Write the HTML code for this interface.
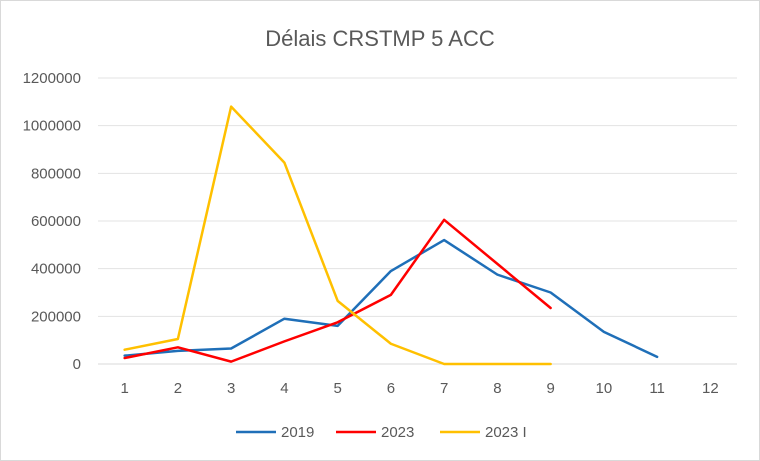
<!DOCTYPE html>
<html><head><meta charset="utf-8"><style>
html,body{margin:0;padding:0;background:#fff;}
svg{display:block;font-family:"Liberation Sans",Arial,sans-serif;}
</style></head><body>
<svg id="chart" width="760" height="461">
<rect x="0.5" y="0.5" width="759" height="460" fill="#fff" stroke="#d9d9d9"/>
<text x="380" y="46" text-anchor="middle" font-size="22" fill="#595959">Délais CRSTMP 5 ACC</text>
<g id="grid"></g><g id="series"></g><g id="legend"></g>
</svg>
<script>
const categories=[1,2,3,4,5,6,7,8,9,10,11,12];
const yTicks=[0,200000,400000,600000,800000,1000000,1200000];
const s2019=[35000,55000,65000,190000,160000,390000,520000,375000,300000,135000,30000];
const s2023=[25000,70000,10000,95000,175000,290000,605000,420000,235000];
const s2023i=[60000,105000,1080000,845000,265000,85000,0,0,0];
const seriesNames=["2019","2023","2023 I"];
const colors=["#1f6fb8","#ff0000","#ffc000"];
const NS="http://www.w3.org/2000/svg";
const x0=98,x1=737,yB=364,yT=78;
const step=(x1-x0)/categories.length;
function xs(i){return x0+step*(i+0.5);}
function ys(v){return yB-(v/1200000)*(yB-yT);}
function mk(t,a,p){const e=document.createElementNS(NS,t);for(const k in a)e.setAttribute(k,a[k]);p.appendChild(e);return e;}
const grid=document.getElementById('grid');
yTicks.forEach(v=>{
 const l=mk('line',{x1:x0,x2:x1,y1:ys(v),y2:ys(v),stroke:v===0?'#d9d9d9':'#e3e3e3','stroke-width':1},grid);
 
 
 const t=mk('text',{x:81,y:ys(v)+5,'text-anchor':'end','font-size':15,fill:'#595959'},grid);
 t.textContent=v;
 
 
});
categories.forEach((c,i)=>{
 const t=mk('text',{x:xs(i),y:393,'text-anchor':'middle','font-size':15,fill:'#595959'},grid);
 t.textContent=c;
 
 
});
const sg=document.getElementById('series');
[s2019,s2023,s2023i].forEach((d,k)=>{
 const p=mk('polyline',{points:d.map((v,i)=>xs(i)+','+ys(v)).join(' '),fill:'none',stroke:colors[k],'stroke-width':2.5,'stroke-linejoin':'round','stroke-linecap':'round'},sg);
 
 
});
const lg=document.getElementById('legend');
const lx=[236,336,440];
seriesNames.forEach((n,k)=>{
 const g=mk('g',{},lg);
 
 
 mk('line',{x1:lx[k],x2:lx[k]+40,y1:432,y2:432,stroke:colors[k],'stroke-width':2.5},g);
 const t=mk('text',{x:lx[k]+45,y:437,'font-size':15,fill:'#595959'},g);
 t.textContent=n;
});
</script>
</body></html>
